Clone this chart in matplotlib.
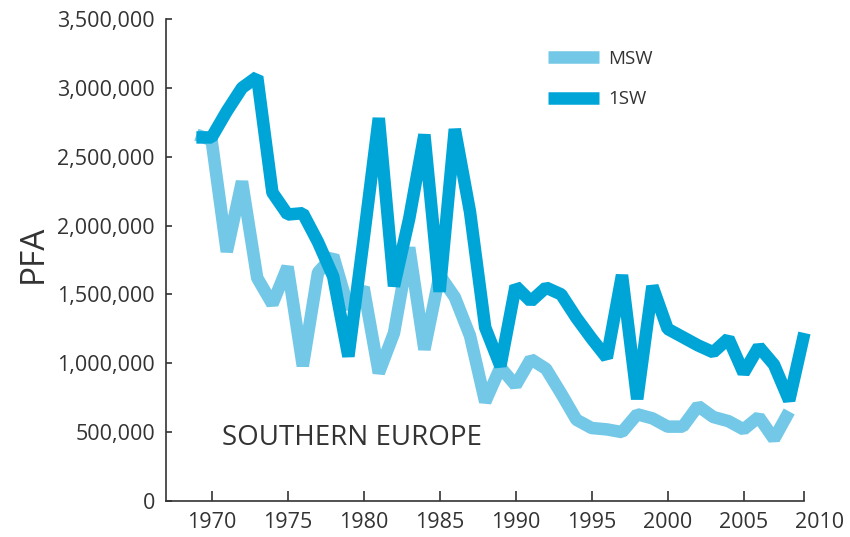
import matplotlib.pyplot as plt
import matplotlib.ticker as mticker

# years and PFA estimates
years_1sw = list(range(1969, 2010))
pfa_1sw = [2640000, 2640000, 2830000, 3000000, 3080000, 2240000, 2080000, 2090000, 1880000, 1630000,
           1050000, 1900000, 2780000, 1560000, 2050000, 2660000, 1520000, 2700000, 2100000, 1260000,
           980000, 1560000, 1450000, 1550000, 1500000, 1330000, 1180000, 1040000, 1640000, 740000,
           1560000, 1250000, 1190000, 1130000, 1080000, 1180000, 930000, 1120000, 990000, 730000,
           1220000]

years_msw = list(range(1969, 2009))
pfa_msw = [2660000, 2620000, 1810000, 2320000, 1620000, 1430000, 1700000, 980000, 1660000, 1780000,
           1400000, 1550000, 930000, 1220000, 1840000, 1100000, 1640000, 1480000, 1200000, 720000,
           970000, 840000, 1030000, 960000, 780000, 590000, 530000, 520000, 500000, 630000,
           600000, 540000, 540000, 690000, 610000, 580000, 520000, 610000, 450000, 650000]

xticks = [1970, 1975, 1980, 1985, 1990, 1995, 2000, 2005, 2010]
yticks = [0, 500000, 1000000, 1500000, 2000000, 2500000, 3000000, 3500000]

light = '#72C8E6'
dark = '#00A5D8'
grey = '#333333'

plt.rcParams['font.family'] = ['Open Sans', 'DejaVu Sans']

fig = plt.figure(figsize=(8.5, 5.37), dpi=100)
ax = fig.add_axes([166 / 850, 36 / 537, 653.6 / 850, 482 / 537])

l_msw, = ax.plot(years_msw, pfa_msw, color=light, lw=9, solid_joinstyle='bevel',
                 solid_capstyle='butt', clip_on=False, label='MSW')
l_1sw, = ax.plot(years_1sw, pfa_1sw, color=dark, lw=9, solid_joinstyle='bevel',
                 solid_capstyle='butt', clip_on=False, label='1SW')

ax.set_xlim(1967, 2010)
ax.set_ylim(0, 3500000)
ax.set_xticks(xticks)
ax.set_yticks(yticks)
ax.set_xticks([2009], minor=True)
ax.yaxis.set_major_formatter(mticker.FuncFormatter(lambda v, p: '{:,.0f}'.format(v)))

for s in ['top', 'right']:
    ax.spines[s].set_visible(False)
for s in ['left', 'bottom']:
    ax.spines[s].set_color(grey)
    ax.spines[s].set_linewidth(1.2)
ax.spines['bottom'].set_bounds(1967, 2009)

ax.tick_params(axis='x', which='both', direction='in', length=7, width=1.2, color=grey,
               labelsize=15.5, labelcolor=grey, pad=8)
ax.tick_params(axis='y', direction='in', length=4, width=1.2, color=grey,
               labelsize=15.5, labelcolor=grey, pad=8)
ax.xaxis.get_major_ticks()[-1].tick1line.set_visible(False)

fig.text(33 / 850, 1 - 254 / 537, 'PFA', rotation=90, ha='center', va='center',
         fontsize=24, color=grey)
fig.text(222 / 850, 1 - 438 / 537, 'SOUTHERN EUROPE', ha='left', va='center',
         fontsize=20, color=grey)

ax.legend(handles=[l_msw, l_1sw], loc='upper left', bbox_to_anchor=(531 / 850, 1 - 33 / 537),
          bbox_transform=fig.transFigure, frameon=False, fontsize=13.5, handlelength=2.75,
          handletextpad=0.45, labelspacing=1.2, labelcolor=grey)

fig.savefig('out.png', dpi=100, facecolor='white')
